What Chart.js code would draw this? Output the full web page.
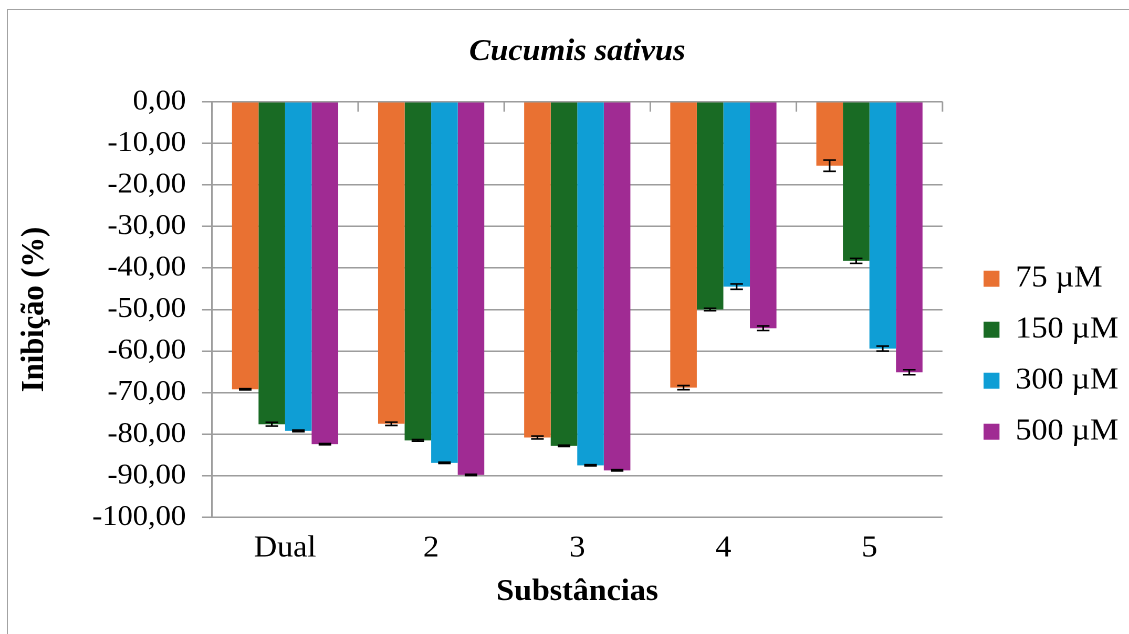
<!DOCTYPE html>
<html>
<head>
<meta charset="utf-8">
<script src="https://cdn.jsdelivr.net/npm/chart.js@4.4.1/dist/chart.umd.min.js"></script>
<style>
  html, body { margin: 0; padding: 0; background: #fff; width: 1129px; height: 634px; overflow: hidden; }
  #frame { position: absolute; left: 7px; top: 9px; width: 1200px; height: 700px; border: 1.5px solid #a3a3a3; box-sizing: border-box; }
  #wrap { position: absolute; left: 0; top: 0; transform-origin: 0 0; }
</style>
</head>
<body>
<div id="frame"></div>
<div id="wrap"><canvas id="c" width="1075" height="634"></canvas></div>
<script>
// Substances tested and the four concentrations
const categories = ['Dual', '2', '3', '4', '5'];
const seriesLabels = ['75 µM', '150 µM', '300 µM', '500 µM'];

// Inhibition (%) per substance, one array per concentration
const inib75  = [-69.2, -77.5, -80.8, -68.8, -15.4];
const inib150 = [-77.6, -81.5, -82.8, -50.0, -38.3];
const inib300 = [-79.2, -86.9, -87.5, -44.5, -59.4];
const inib500 = [-82.4, -89.8, -88.7, -54.5, -65.1];

// Standard errors (±) for the same bars
const err75  = [0.15, 0.40, 0.35, 0.50, 1.35];
const err150 = [0.45, 0.20, 0.15, 0.30, 0.60];
const err300 = [0.20, 0.15, 0.15, 0.65, 0.60];
const err500 = [0.15, 0.15, 0.15, 0.55, 0.60];

// Value axis range
const yMin = -100, yMax = 0, yStep = 10;

const seriesColors = ['#E97132', '#196B24', '#0F9ED5', '#A02B93'];

// The drawing is laid out on a slightly narrower canvas and widened horizontally
const CANVAS_W = 1075;
const STRETCH = 1129 / CANVAS_W;
document.getElementById('wrap').style.transform = 'scaleX(' + STRETCH + ')';

const FONT = "'Liberation Serif', 'Times New Roman', serif";
const FS = 30.5;
const GRID = '#9d9d9d';

// Black whiskers with caps for the standard error of each bar
const errorBars = {
  id: 'errorBars',
  afterDatasetsDraw(chart) {
    const { ctx } = chart;
    const y = chart.scales.y;
    ctx.save();
    ctx.strokeStyle = '#000';
    ctx.lineWidth = 1.6;
    chart.data.datasets.forEach((ds, i) => {
      const meta = chart.getDatasetMeta(i);
      meta.data.forEach((bar, j) => {
        const v = ds.data[j], e = ds.errors[j];
        const yHi = y.getPixelForValue(v + e);
        const yLo = y.getPixelForValue(v - e);
        const half = 6;
        ctx.beginPath();
        ctx.moveTo(bar.x, yHi); ctx.lineTo(bar.x, yLo);
        ctx.moveTo(bar.x - half, yHi); ctx.lineTo(bar.x + half, yHi);
        ctx.moveTo(bar.x - half, yLo); ctx.lineTo(bar.x + half, yLo);
        ctx.stroke();
      });
    });
    ctx.restore();
  }
};

// Short tick marks hanging below the zero line at each category boundary
const categoryTicks = {
  id: 'categoryTicks',
  beforeDatasetsDraw(chart) {
    const { ctx } = chart;
    const x = chart.scales.x, y = chart.scales.y;
    const y0 = y.getPixelForValue(0);
    ctx.save();
    ctx.strokeStyle = GRID;
    ctx.lineWidth = 1.5;
    for (let i = 0; i <= categories.length; i++) {
      const px = x.getPixelForValue(i - 0.5);
      ctx.beginPath();
      ctx.moveTo(px, y0);
      ctx.lineTo(px, y0 + 10);
      ctx.stroke();
    }
    ctx.restore();
  }
};

const seriesValues = [inib75, inib150, inib300, inib500];
const seriesErrors = [err75, err150, err300, err500];

new Chart(document.getElementById('c'), {
  type: 'bar',
  data: {
    labels: categories,
    datasets: seriesLabels.map((label, i) => ({
      label,
      data: seriesValues[i],
      errors: seriesErrors[i],
      backgroundColor: seriesColors[i],
      borderWidth: 0,
      categoryPercentage: 0.727,
      barPercentage: 1.0
    }))
  },
  plugins: [categoryTicks, errorBars],
  options: {
    responsive: false,
    animation: false,
    devicePixelRatio: 2,
    layout: { padding: 0 },
    scales: {
      x: {
        grid: { display: false, drawTicks: false },
        border: { display: false },
        ticks: { color: '#000', font: { family: FONT, size: FS }, padding: 12.7 },
        title: {
          display: true, text: 'Substâncias', color: '#000',
          font: { family: FONT, size: FS, weight: 'bold' },
          padding: { top: 0, bottom: 23.7 }
        },
        afterFit(s) { s.height = 116.7; }
      },
      y: {
        min: yMin, max: yMax,
        ticks: {
          stepSize: yStep, color: '#000', font: { family: FONT, size: 29 }, padding: 15.3,
          callback: v => v.toFixed(2).replace('.', ',')
        },
        grid: { color: GRID, lineWidth: 1.5, tickLength: 9.5, drawTicks: true },
        border: { color: GRID, width: 1.5 },
        title: {
          display: true, text: 'Inibição (%)', color: '#000',
          font: { family: FONT, size: FS, weight: 'bold' },
          padding: { top: 15, bottom: 0 }
        },
        afterFit(s) { s.width = 201.9; }
      },
      gap: {
        type: 'linear', position: 'right', display: true,
        grid: { display: false, drawTicks: false }, border: { display: false },
        ticks: { display: false },
        afterFit(s) { s.width = 18.6; }
      }
    },
    plugins: {
      title: {
        display: true, text: 'Cucumis sativus', color: '#000', fullSize: false,
        font: { family: FONT, size: FS, style: 'italic', weight: 'bold' },
        padding: { top: 33.7, bottom: 31.4 }
      },
      legend: {
        position: 'right', align: 'start', fullSize: false,
        title: { display: true, text: '', font: { size: 10 }, padding: { top: 129.25, bottom: 0 } },
        labels: {
          boxWidth: 15.2, boxHeight: 16, padding: 20.5, color: '#000',
          font: { family: FONT, size: FS }
        }
      },
      tooltip: { enabled: false }
    }
  }
});
</script>
</body>
</html>
